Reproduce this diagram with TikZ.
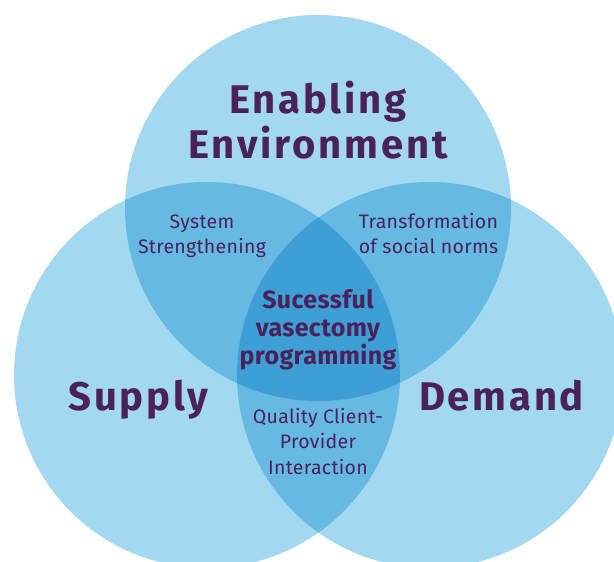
\documentclass[tikz,border=0pt]{standalone}
\usepackage{fontspec}
\setmainfont{Fira Sans}
\newfontfamily\headfont[LetterSpace=7]{Fira Sans}
\newfontfamily\smallfont[LetterSpace=1.5]{Fira Sans}
\definecolor{lightb}{RGB}{163,217,240}
\definecolor{midb}{RGB}{102,185,226}
\definecolor{darkb}{RGB}{62,158,214}
\definecolor{txt}{RGB}{74,33,89}
\tikzset{
  head/.style={text=txt, font=\headfont\fontsize{40}{45}\selectfont\bfseries, align=center, inner sep=0pt},
  small/.style={text=txt, font=\smallfont\fontsize{19.5}{25.5}\selectfont, align=center, inner sep=0pt},
  core/.style={text=txt, font=\smallfont\fontsize{25}{28}\selectfont\bfseries, align=center, inner sep=0pt}
}
\begin{document}
\begin{tikzpicture}[x=1pt,y=-1pt]
\useasboundingbox (0,0) rectangle (614,562);
\clip (0,0) rectangle (614,562);
\coordinate (T) at (318,208);
\coordinate (L) at (207,375);
\coordinate (R) at (430,375);
\fill[lightb] (T) circle[radius=193pt];
\fill[lightb] (L) circle[radius=193pt];
\fill[lightb] (R) circle[radius=193pt];
\begin{scope}
  \clip (T) circle[radius=193pt];
  \fill[midb] (L) circle[radius=193pt];
  \fill[midb] (R) circle[radius=193pt];
\end{scope}
\begin{scope}
  \clip (L) circle[radius=193pt];
  \fill[midb] (R) circle[radius=193pt];
\end{scope}
\begin{scope}
  \clip (T) circle[radius=193pt];
  \clip (L) circle[radius=193pt];
  \fill[darkb] (R) circle[radius=193pt];
\end{scope}
\node[head] (env) at (318,120) {Enabling\\Environment};
\node[head, anchor=base] (sup) at (138.5,410) {Supply};
\node[head, anchor=base] (dem) at (501.5,410) {Demand};
\node[small] (sys) at (202,236) {System\\Strengthening};
\node[small] (tra) at (428.5,233.5) {Transformation\\of social norms};
\node[core] (suc) at (318,329.5) {Sucessful\\vasectomy\\programming};
\node[small] (qua) at (318,441.5) {Quality Client-\\Provider\\Interaction};
\end{tikzpicture}
\end{document}
